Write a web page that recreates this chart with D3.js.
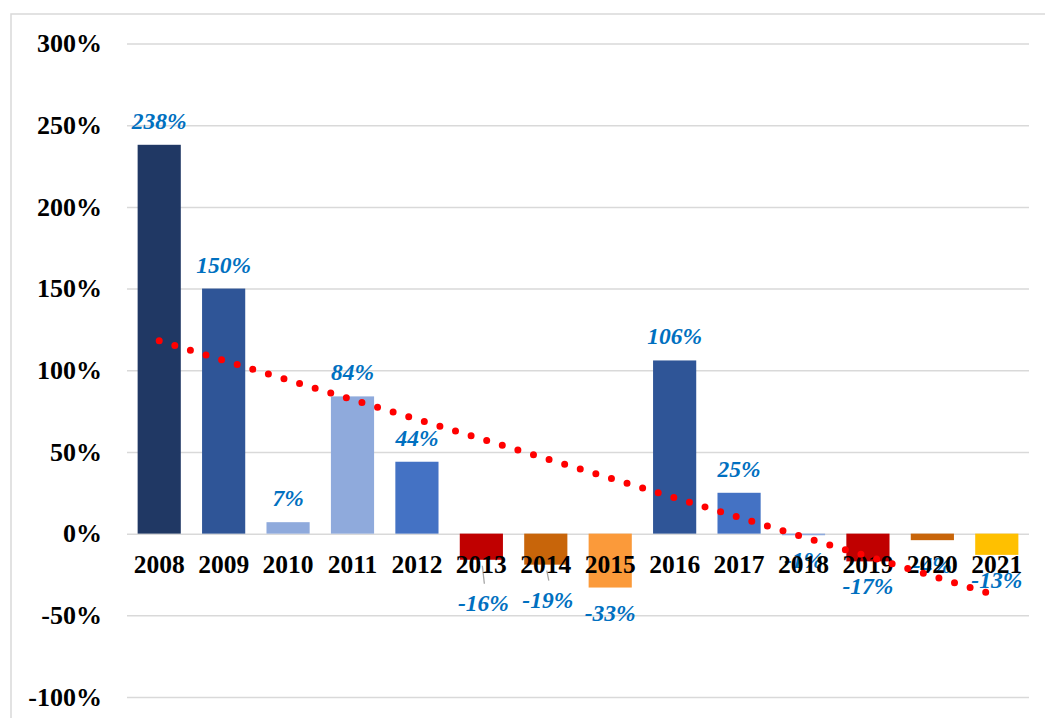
<!DOCTYPE html>
<html>
<head>
<meta charset="utf-8">
<script src="https://cdn.jsdelivr.net/npm/d3@7"></script>
<style>
  body { margin: 0; background: #fff; }
  svg { display: block; }
  text { font-family: "Liberation Serif", "Times New Roman", serif; }
</style>
</head>
<body>
<svg width="1045" height="718"></svg>
<script>
// values
const years = ["2008", "2009", "2010", "2011", "2012", "2013", "2014", "2015", "2016", "2017", "2018", "2019", "2020", "2021"];
const changes = [238, 150, 7, 84, 44, -16, -19, -33, 106, 25, -1, -17, -4, -13];
const trend = [118, 106, 94, 82, 70, 58, 46, 34, 22, 10, -2, -14, -26, -38];
const yTicks = [300, 250, 200, 150, 100, 50, 0, -50, -100];
const barColors = ["#203864", "#2F5597", "#8FAADC", "#8FAADC", "#4472C4", "#C00000", "#C8650A",
                   "#FB9A3A", "#2F5597", "#4472C4", "#8FAADC", "#C00000", "#C8650A", "#FFC000"];

// labels dragged away from their bars (with leader lines)
const movedLabels = { "2013": {dx: 2, dy: 18}, "2014": {dx: 2, dy: 10} };

const svg = d3.select("svg");
const margin = {top: 43.5, right: 16, bottom: 21, left: 127};
const width = 1045 - margin.left - margin.right;
const height = 718 - margin.top - margin.bottom;

// outer frame
svg.append("rect")
    .attr("x", 11).attr("y", 14)
    .attr("width", 1045).attr("height", 720)
    .attr("fill", "none")
    .attr("stroke", "#d9d9d9")
    .attr("stroke-width", 1.5);

const g = svg.append("g").attr("transform", `translate(${margin.left},${margin.top})`);

const x = d3.scaleBand().domain(years).range([0, width]).paddingInner(0.33).paddingOuter(0.165);
const y = d3.scaleLinear().domain([-100, 300]).range([height, 0]);

// gridlines + y labels
const yAxis = g.append("g")
    .call(d3.axisLeft(y).tickValues(yTicks).tickSize(-width).tickFormat(d => d + "%").tickPadding(25));
yAxis.select(".domain").remove();
yAxis.selectAll(".tick line").attr("stroke", "#d9d9d9").attr("stroke-width", 1.5);
yAxis.selectAll(".tick text")
    .attr("fill", "#000")
    .attr("font-size", 26)
    .attr("font-weight", "bold")
    .attr("font-family", "'Liberation Serif', 'Times New Roman', serif");

// bars
g.selectAll(".bar")
    .data(years)
    .enter().append("rect")
    .attr("class", "bar")
    .attr("x", d => x(d))
    .attr("y", (d, i) => y(Math.max(0, changes[i])))
    .attr("width", x.bandwidth())
    .attr("height", (d, i) => Math.abs(y(changes[i]) - y(0)))
    .attr("fill", (d, i) => barColors[i]);

// leader lines for moved labels
Object.keys(movedLabels).forEach(yr => {
    const i = years.indexOf(yr);
    const cx = x(yr) + x.bandwidth() / 2;
    g.append("line")
        .attr("x1", cx + 1).attr("y1", y(changes[i]) + 6)
        .attr("x2", cx + 3).attr("y2", y(changes[i]) + 6 + movedLabels[yr].dy)
        .attr("stroke", "#a6a6a6")
        .attr("stroke-width", 1.3);
});

// data labels
g.selectAll(".lbl")
    .data(years)
    .enter().append("text")
    .attr("class", "lbl")
    .attr("x", (d, i) => x(d) + x.bandwidth() / 2 + (movedLabels[d] ? movedLabels[d].dx : 0))
    .attr("y", (d, i) => changes[i] >= 0 ? y(changes[i]) - 16 : y(changes[i]) + 33 + (movedLabels[d] ? movedLabels[d].dy : 0))
    .attr("text-anchor", "middle")
    .attr("font-size", 23.5)
    .attr("font-weight", "bold")
    .attr("font-style", "italic")
    .attr("fill", "#0070C0")
    .text((d, i) => changes[i] + "%");

// category labels
g.selectAll(".year")
    .data(years)
    .enter().append("text")
    .attr("class", "year")
    .attr("x", d => x(d) + x.bandwidth() / 2)
    .attr("y", y(0) + 39)
    .attr("text-anchor", "middle")
    .attr("font-size", 25.5)
    .attr("font-weight", "bold")
    .attr("fill", "#000")
    .text(d => d);

// linear trend, round dotted
const line = d3.line()
    .x((d, i) => x(years[i]) + x.bandwidth() / 2)
    .y(d => y(d));

g.append("path")
    .datum(trend)
    .attr("d", line)
    .attr("fill", "none")
    .attr("stroke", "#FF0000")
    .attr("stroke-width", 7)
    .attr("stroke-linecap", "round")
    .attr("stroke-dasharray", "0 16.3");
</script>
</body>
</html>
